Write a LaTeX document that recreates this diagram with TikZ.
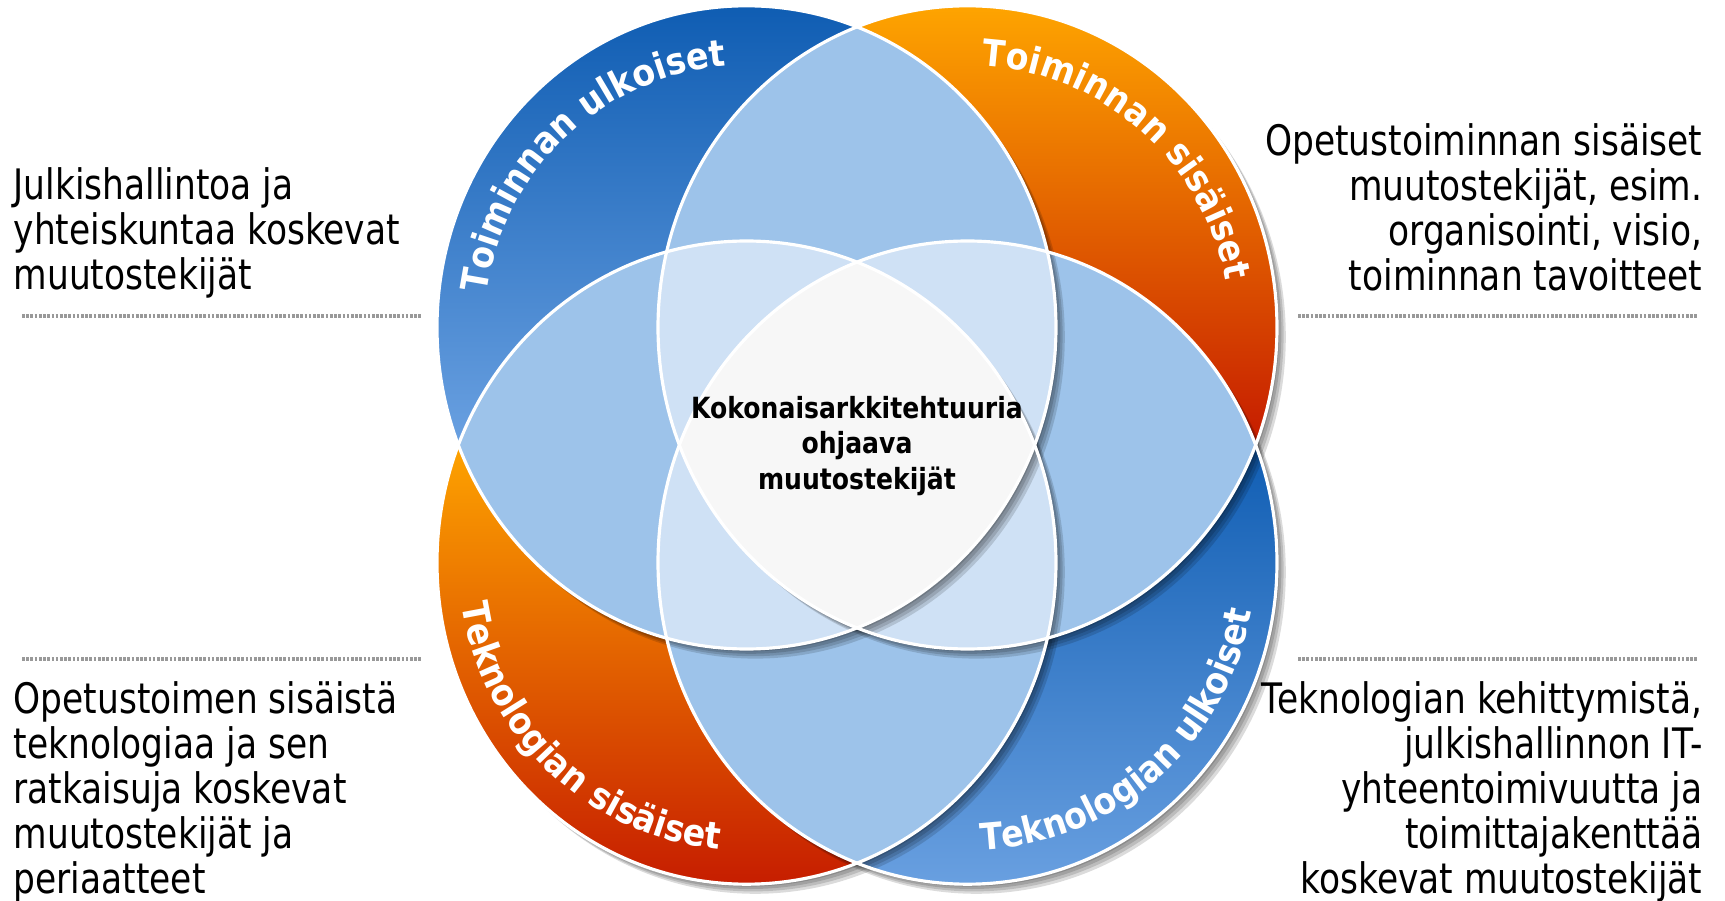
\documentclass[tikz,border=0pt]{standalone}
\usepackage{fontspec}
\setmainfont{DejaVu Sans}
\newfontfamily\sidefont{DejaVu Sans}[FakeStretch=0.82]
\newfontfamily\arcfont{DejaVu Sans}[FakeStretch=0.9]
\newfontfamily\corefont{DejaVu Sans}[FakeStretch=0.86]
\usetikzlibrary{calc}
\usetikzlibrary{decorations.text}

\definecolor{bluedark}{RGB}{14,92,178}
\definecolor{bluelight}{RGB}{108,162,226}
\definecolor{orangetop}{RGB}{255,166,0}
\definecolor{redbottom}{RGB}{196,24,0}
\definecolor{lenstwo}{RGB}{157,195,234}
\definecolor{lensthree}{RGB}{207,225,245}
\definecolor{corewhite}{RGB}{247,247,247}

\def\rx{3.095}
\def\ry{3.216}

\begin{document}
\begin{tikzpicture}[
  rim/.style={draw=white, line width=0.9pt},
  sepline/.style={draw=gray!80, line width=0.9pt, dash pattern=on 0.75pt off 0.45pt},
  side/.style={inner sep=0pt, font=\sidefont\fontsize{11.95}{12.8}\selectfont},
  arclabel/.style={decorate, decoration={text along path, text align=center, text color=white,
    text={|\arcfont\bfseries\fontsize{10.5}{12}\selectfont|#1}}},
]
\useasboundingbox (0,0) rectangle (17.25,-9.01);

\coordinate (TL) at (7.465,-3.274);
\coordinate (TR) at (9.675,-3.274);
\coordinate (BL) at (7.465,-5.626);
\coordinate (BR) at (9.675,-5.626);

% outer parts, shaded
\begin{scope}
  \clip (TL) circle[x radius=\rx, y radius=\ry];
  \shade[top color=bluedark, bottom color=bluelight] (4.2,0) rectangle (8.7,-4.55);
\end{scope}
\begin{scope}
  \clip (TR) circle[x radius=\rx, y radius=\ry];
  \shade[top color=orangetop, bottom color=redbottom] (8.4,0) rectangle (13,-4.55);
\end{scope}
\begin{scope}
  \clip (BL) circle[x radius=\rx, y radius=\ry];
  \shade[top color=orangetop, bottom color=redbottom] (4.2,-4.35) rectangle (8.7,-9.01);
\end{scope}
\begin{scope}
  \clip (BR) circle[x radius=\rx, y radius=\ry];
  \shade[top color=bluedark, bottom color=bluelight] (8.4,-4.35) rectangle (13,-9.01);
\end{scope}

% overlaps
\foreach \a/\b in {TL/TR, TL/BL, TR/BR, BL/BR, TL/BR, TR/BL} {
  \begin{scope}
    \clip (\a) circle[x radius=\rx, y radius=\ry];
    \fill[lenstwo] (\b) circle[x radius=\rx, y radius=\ry];
  \end{scope}
}
\foreach \a/\b/\c in {TL/TR/BL, TL/TR/BR, TL/BL/BR, TR/BL/BR} {
  \begin{scope}
    \clip (\a) circle[x radius=\rx, y radius=\ry];
    \clip (\b) circle[x radius=\rx, y radius=\ry];
    \fill[lensthree] (\c) circle[x radius=\rx, y radius=\ry];
  \end{scope}
}
\begin{scope}
  \clip (TL) circle[x radius=\rx, y radius=\ry];
  \clip (TR) circle[x radius=\rx, y radius=\ry];
  \clip (BL) circle[x radius=\rx, y radius=\ry];
  \fill[corewhite] (BR) circle[x radius=\rx, y radius=\ry];
\end{scope}

% shadows
\foreach \c in {TL,TR,BL,BR}
  \foreach \s in {1,2,3,4} {
    \begin{scope}
      \clip ($(\c)+(0.022*\s,-0.024*\s)$) circle[x radius=\rx, y radius=\ry];
      \fill[black, opacity=0.14, even odd rule] (0,0) rectangle (17.25,-9.01) (\c) circle[x radius=\rx, y radius=\ry];
    \end{scope}
  }

\foreach \c in {TL,TR,BL,BR}
  \draw[rim] (\c) circle[x radius=\rx, y radius=\ry];

% labels on the rings
\path[arclabel={Toiminnan ulkoiset}] ($(TL)+(206:2.62)$) arc[start angle=206, end angle=61, radius=2.62];
\path[arclabel={Toiminnan sisäiset}] ($(TR)+(121:2.62)$) arc[start angle=121, end angle=-24, radius=2.62];
\path[arclabel={Teknologian sisäiset}] ($(BL)+(154:2.88)$) arc[start angle=154, end angle=299, radius=2.88];
\path[arclabel={Teknologian ulkoiset}] ($(BR)+(239:2.88)$) arc[start angle=239, end angle=384, radius=2.88];

\node[align=center, inner sep=0pt, font=\corefont\bfseries\fontsize{8.3}{10}\selectfont] (core) at (8.57,-4.46)
  {Kokonaisarkkitehtuuria\\ohjaava\\muutostekijät};

\node[side, anchor=north west, align=left] (tltext) at (0.13,-1.67)
  {Julkishallintoa ja\\yhteiskuntaa koskevat\\muutostekijät};
\node[side, anchor=north east, align=right] (trtext) at (17.03,-1.23)
  {Opetustoiminnan sisäiset\\muutostekijät, esim.\\organisointi, visio,\\toiminnan tavoitteet};
\node[side, anchor=north west, align=left] (bltext) at (0.13,-6.81)
  {Opetustoimen sisäistä\\teknologiaa ja sen\\ratkaisuja koskevat\\muutostekijät ja\\periaatteet};
\node[side, anchor=north east, align=right] (brtext) at (17.03,-6.81)
  {Teknologian kehittymistä,\\julkishallinnon IT-\\yhteentoimivuutta ja\\toimittajakenttää\\koskevat muutostekijät};

\draw[sepline] (0.22,-3.16) -- (4.21,-3.16);
\draw[sepline] (12.98,-3.16) -- (16.98,-3.16);
\draw[sepline] (0.22,-6.59) -- (4.21,-6.59);
\draw[sepline] (12.98,-6.59) -- (16.98,-6.59);
\end{tikzpicture}
\end{document}
